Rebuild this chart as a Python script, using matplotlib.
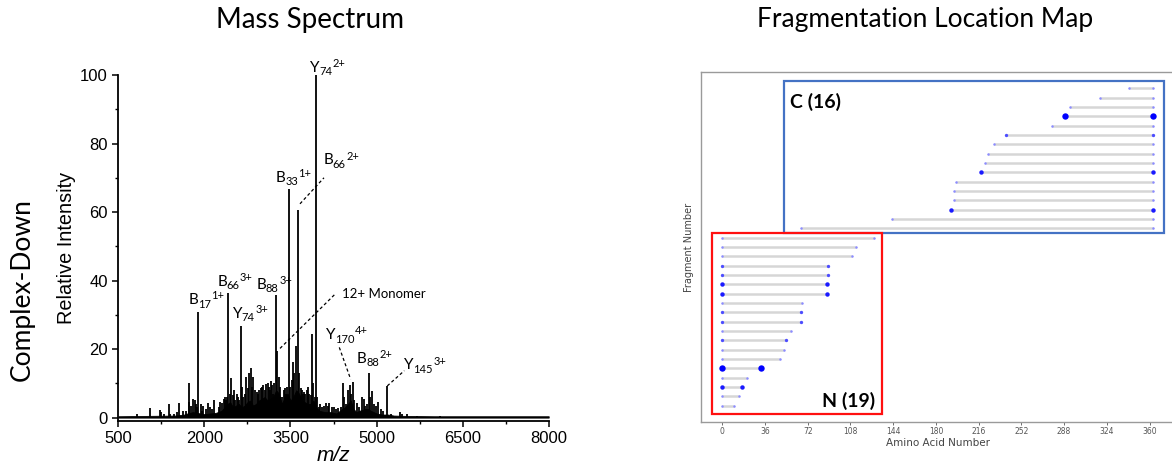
import matplotlib
matplotlib.use("Agg")
import matplotlib.pyplot as plt
import numpy as np
from matplotlib.patches import Rectangle

# ---------------- data: mass spectrum ----------------
peak_mz = [831, 1058, 1227, 1240, 1300, 1378, 1400, 1470, 1520, 1563, 1620, 1680, 1726, 1740,
           1770, 1807, 1830, 1850, 1870, 1894, 1935, 1960, 1981, 2020, 2056, 2100, 2130, 2173,
           2250, 2280, 2312, 2340, 2359, 2380, 2395, 2417, 2440, 2464, 2499, 2520, 2540, 2563,
           2580, 2600, 2632, 2660, 2680, 2700, 2731, 2760, 2780, 2807, 2830, 2853, 2880, 2910,
           2940, 2960, 2985, 3010, 3030, 3055, 3075, 3100, 3120, 3140, 3160, 3180, 3200, 3220,
           3242, 3270, 3300, 3320, 3350, 3380, 3404, 3420, 3440, 3474, 3500, 3520, 3549, 3570,
           3600, 3631, 3654, 3683, 3700, 3720, 3740, 3760, 3782, 3800, 3830, 3850, 3880, 3900,
           3920, 3950, 3970, 3990, 4020, 4050, 4080, 4113, 4150, 4180, 4220, 4260, 4300, 4335,
           4380, 4410, 4430, 4470, 4508, 4535, 4560, 4584, 4610, 4654, 4700, 4741, 4780, 4800,
           4830, 4863, 4890, 4915, 4950, 4990, 5030, 5070, 5110, 5182, 5250, 5409, 5450, 5530,
           5700, 6100]
peak_int = [1.0, 2.7, 2.3, 1.5, 1.0, 4.0, 1.2, 1.2, 1.5, 4.3, 1.8, 2.0, 10.2, 4.5,
            3.5, 5.4, 5.0, 4.0, 3.0, 30.8, 4.0, 2.0, 3.4, 2.5, 4.2, 3.0, 2.5, 5.2,
            3.0, 4.5, 4.2, 5.5, 6.0, 5.0, 6.0, 36.4, 7.0, 11.6, 6.5, 8.0, 5.0, 7.0,
            6.0, 5.0, 26.6, 9.0, 6.0, 7.0, 11.8, 8.5, 13.0, 14.5, 9.0, 12.0, 8.0, 7.5,
            6.9, 8.0, 8.5, 9.0, 9.5, 8.0, 9.8, 10.0, 9.0, 8.0, 10.6, 9.5, 7.0, 10.0,
            35.8, 19.5, 12.0, 9.0, 6.0, 8.0, 8.5, 7.0, 9.0, 66.6, 9.0, 11.0, 16.3, 13.0,
            21.0, 60.5, 13.0, 8.5, 8.0, 7.0, 7.5, 7.0, 8.2, 9.0, 7.0, 6.5, 24.4, 10.0,
            6.0, 100.0, 6.0, 3.2, 4.0, 3.0, 3.5, 4.2, 3.5, 4.2, 3.2, 3.0, 2.5, 2.7,
            3.0, 10.0, 6.0, 4.0, 8.1, 9.5, 7.0, 10.5, 5.0, 4.2, 3.0, 6.1, 5.5, 3.5,
            4.0, 13.0, 6.0, 7.8, 4.0, 3.5, 4.7, 2.5, 2.0, 9.3, 1.2, 1.7, 1.2, 1.0,
            0.6, 0.5]

grass_mz = [500, 1500, 1650, 1700, 1800, 1900, 2000, 2100, 2200, 2300, 2350, 2400, 2450,
            2500, 2550, 2600, 2650, 2700, 2750, 2800, 2850, 2900, 2950, 3000, 3050, 3100,
            3150, 3200, 3250, 3300, 3350, 3400, 3450, 3500, 3550, 3600, 3650, 3700, 3750,
            3800, 3850, 3900, 3950, 4000, 4100, 4200, 4300, 4400, 4450, 4500, 4550, 4600,
            4650, 4700, 4800, 4850, 4900, 4950, 5000, 5100, 5200, 5300, 5500, 6000, 8000]
grass_int = [0.4, 0.6, 0.9, 1.2, 1.6, 1.3, 1.0, 1.2, 1.4, 2.0, 3.0, 4.0, 4.5,
             3.0, 3.5, 4.0, 3.0, 3.5, 4.5, 5.0, 3.5, 4.0, 5.0, 5.5, 6.0, 5.0,
             5.5, 6.0, 8.0, 7.0, 4.0, 6.0, 7.0, 5.0, 6.0, 8.0, 7.0, 5.0, 4.5,
             4.0, 4.0, 5.0, 3.0, 2.0, 1.6, 1.6, 1.2, 2.5, 3.0, 4.0, 5.0, 2.5,
             1.6, 2.0, 2.5, 2.5, 2.0, 1.6, 1.2, 0.9, 0.9, 0.6, 0.5, 0.4, 0.4]

ion_letter = ["Y", "B", "B", "B", "B", "Y", "B", "Y", "B", "Y"]
ion_sub = ["74", "33", "66", "17", "66", "74", "88", "170", "88", "145"]
ion_sup = ["2+", "1+", "2+", "1+", "3+", "3+", "3+", "4+", "2+", "3+"]

x_ticks = [500, 2000, 3500, 5000, 6500, 8000]
y_ticks = [0, 20, 40, 60, 80, 100]

# ---------------- data: fragmentation map ----------------
protein_len = 363
n_end = [128, 113, 109, 89, 89, 88, 88, 67, 66, 66, 58, 54, 52, 49, 33, 21, 17, 14, 10]
n_level = [1, 1, 1, 2, 2, 3, 3, 1, 2, 2, 1, 2, 1, 1, 4, 1, 3, 1, 1]
c_start = [343, 318, 293, 289, 278, 239, 229, 224, 221, 218, 197, 195, 195, 193, 143, 66]
c_level = [1, 1, 1, 4, 1, 2, 1, 1, 1, 3, 1, 1, 1, 3, 1, 1]
aa_ticks = [0, 36, 72, 108, 144, 180, 216, 252, 288, 324, 360]

# ---------------- figure ----------------
W, H = 1172, 470
fig = plt.figure(figsize=(W / 100, H / 100), dpi=100)

SANS = ["Liberation Sans", "DejaVu Sans"]
CAL = ["Lato", "DejaVu Sans"]

# ---- left: mass spectrum ----
ax = fig.add_axes([118.3 / W, 1 - 420.7 / H, (548.7 - 118.3) / W, (420.7 - 75) / H])
ax.fill_between(grass_mz, 0, grass_int, color="black", lw=0.6)
ax.vlines(peak_mz, 0, peak_int, color="black", lw=1.3)
ax.set_xlim(500, 8000)
ax.set_ylim(-0.9, 100)
ax.spines["top"].set_visible(False)
ax.spines["right"].set_visible(False)
for s in ("left", "bottom"):
    ax.spines[s].set_linewidth(1.3)
ax.set_xticks(x_ticks)
ax.set_xticks(np.arange(1250, 8000, 1500), minor=True)
ax.set_yticks(y_ticks)
ax.set_yticks([10, 30, 50, 70, 90], minor=True)
ax.tick_params(which="major", length=4, width=1.1, labelsize=12, direction="out")
ax.tick_params(which="minor", length=2.5, width=1.0, direction="out")
for t in ax.get_xticklabels() + ax.get_yticklabels():
    t.set_family(SANS)
ax.set_ylabel("Relative Intensity", fontsize=14.3, family=SANS, labelpad=3)
ax.set_xlabel("m/z", fontsize=15, family=SANS, style="italic", labelpad=0)

# ion labels (main letter baseline-left position in data coords)
label_xy = [(3842, 101.0), (3248, 68.9), (4072, 73.9), (1720, 33.1), (2225, 38.5),
            (2493, 29.2), (2911, 37.6), (4119, 22.9), (4654, 16.0), (5484, 14.1)]
for L, sb, sp, (lx, ly) in zip(ion_letter, ion_sub, ion_sup, label_xy):
    t0 = ax.text(lx, ly, L, fontsize=11, family=CAL, ha="left", va="baseline", clip_on=False)
    t1 = ax.annotate(sb, xy=(1.0, ly), xycoords=(t0, "data"), xytext=(-0.3, -2.6),
                     textcoords="offset points", fontsize=8, family=CAL,
                     ha="left", va="baseline")
    ax.annotate(sp, xy=(1.0, ly), xycoords=(t1, "data"), xytext=(0.3, 3.4),
                textcoords="offset points", fontsize=8, family=CAL, ha="left", va="baseline")
ax.text(4392, 36.1, "12+ Monomer", fontsize=9.5, family=CAL, ha="left", va="center")

# dashed leader lines
leaders = [((3666, 62.4), (4084, 70.0)), ((3318, 20.2), (4293, 36.3)),
           ((4351, 20.5), (4549, 11.2)), ((5187, 9.25), (5484, 13.7))]
for (x0, y0), (x1, y1) in leaders:
    ax.plot([x0, x1], [y0, y1], color="black", lw=0.9, ls=(0, (2.5, 2)), clip_on=False)

fig.text(310 / W, 1 - 20 / H, "Mass Spectrum", fontsize=20, family=CAL, ha="center", va="center")
fig.text(22 / W, 1 - 290 / H, "Complex-Down", fontsize=19, family=CAL, ha="center", va="center",
         rotation=90)

# ---- right: fragmentation location map ----
x0d, x1d = -18.15, 381.15
bx = fig.add_axes([700.7 / W, 1 - 421.7 / H, (x1d - x0d) * 1.187 / W, (421.7 - 72.3) / H])
ms_map = {1: 1.8, 2: 2.4, 3: 3.2, 4: 4.6}
col_map = {1: "#8c8cff", 2: "#4d4dff", 3: "#1a1aff", 4: "#0000ff"}
line_col = "#d6d6d6"

n_rows = len(n_end)
c_rows = len(c_start)
total = n_rows + c_rows
c_y = np.arange(total - 1, n_rows - 1, -1)
n_y = np.arange(n_rows - 1, -1, -1)

for yy, st, lv in zip(c_y, c_start, c_level):
    bx.plot([st, protein_len], [yy, yy], color=line_col, lw=1.8, solid_capstyle="butt", zorder=1)
    bx.plot([st, protein_len], [yy, yy], ls="none", marker="o", ms=ms_map[lv],
            color=col_map[lv], mec="none", zorder=2)
for yy, en, lv in zip(n_y, n_end, n_level):
    bx.plot([0, en], [yy, yy], color=line_col, lw=1.8, solid_capstyle="butt", zorder=1)
    bx.plot([0, en], [yy, yy], ls="none", marker="o", ms=ms_map[lv],
            color=col_map[lv], mec="none", zorder=2)

bx.set_xlim(x0d, x1d)
bx.set_ylim(-1.7, total - 1 + 1.7)
bx.set_yticks([])
bx.set_xticks(aa_ticks)
bx.tick_params(axis="x", labelsize=5.5, length=2.5, width=0.6, colors="#555555", pad=1.5)
for s in bx.spines.values():
    s.set_color("#9a9a9a")
    s.set_linewidth(1.0)
bx.set_xlabel("Amino Acid Number", fontsize=7.5, color="#444444", labelpad=1)
bx.set_ylabel("Fragment Number", fontsize=7, color="#444444", labelpad=5)

# boxes around C- and N-terminal fragments
bx.add_patch(Rectangle((52.0, 18.51), 372.4 - 52.0, 34.75 - 18.51, fill=False,
                       ec="#4472c4", lw=1.6, zorder=3, clip_on=False))
bx.add_patch(Rectangle((-9.0, -0.89), 135.0 + 9.0, 18.48 + 0.89, fill=False,
                       ec="#ff1010", lw=1.6, zorder=3, clip_on=False))
bx.text(57.3, 31.9, "C (16)", fontsize=14, fontweight="bold", family=CAL,
        ha="left", va="baseline")
bx.text(129.0, -0.15, "N (19)", fontsize=14, fontweight="bold", family=CAL,
        ha="right", va="baseline")

fig.text(925 / W, 1 - 20 / H, "Fragmentation Location Map", fontsize=19, family=CAL,
         ha="center", va="center")

fig.savefig("out.png", dpi=100)
